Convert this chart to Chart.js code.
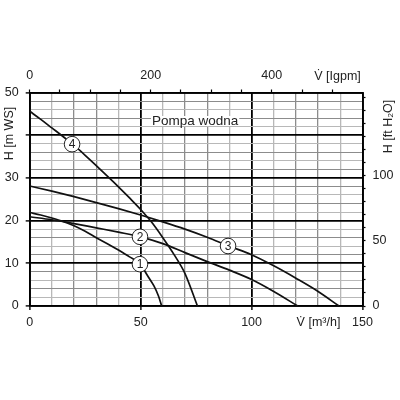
<!DOCTYPE html>
<html>
<head>
<meta charset="utf-8">
<script src="https://cdn.jsdelivr.net/npm/chart.js@4.4.0/dist/chart.umd.min.js"></script>
<style>
html,body{margin:0;padding:0;background:#fff;}
#wrap{width:400px;height:400px;position:relative;}
</style>
</head>
<body>
<div id="wrap"><canvas id="c" width="400" height="400"></canvas></div>
<script>
// ---- data (flow Q in m³/h, head H in m) ----
const curve1Q = [0, 5, 10, 15, 20, 25, 30, 35, 40, 45, 50, 53, 56, 58, 59.5];
const curve1H = [21.9, 21.3, 20.6, 19.8, 18.8, 17.5, 16.0, 14.6, 13.1, 11.5, 9.7, 7.2, 4.7, 2.4, 0];

const curve2Q = [0, 10, 20, 30, 40, 50, 60, 70, 80, 90, 100, 110, 120.8];
const curve2H = [20.9, 20.2, 19.3, 18.3, 17.3, 16.2, 14.6, 12.5, 10.4, 8.4, 6.2, 3.4, 0];

const curve3Q = [0, 10, 20, 30, 40, 50, 60, 70, 80, 90, 100, 110, 120, 130, 139.4];
const curve3H = [28.1, 26.9, 25.6, 24.2, 22.8, 21.3, 19.7, 18.0, 16.1, 14.0, 12.0, 9.4, 6.5, 3.4, 0];

const curve4Q = [0, 5, 10, 15, 20, 25, 30, 35, 40, 45, 50, 55, 60, 65, 70, 75.6];
const curve4H = [45.6, 43.7, 41.7, 39.7, 37.6, 35.3, 32.9, 30.4, 27.9, 25.3, 22.6, 19.6, 16.0, 12.1, 7.6, 0];

const markerNames = ["1", "2", "3", "4"];
const markerQ = [49.7, 49.7, 89.4, 19.1];
const markerH = [9.8, 16.2, 14.05, 37.9];

const bottomTickLabels = [0, 50, 100, 150];
const leftTickLabels = [0, 10, 20, 30, 50];
const topTickLabels = [0, 200, 400];
const rightTickLabels = [0, 50, 100];

const bottomTicks = [0, 10, 20, 30, 40, 50, 60, 70, 80, 90, 100, 110, 120, 130, 140, 150];
const leftTicks = [0, 2, 4, 6, 8, 10, 12, 14, 16, 18, 20, 22, 24, 26, 28, 30, 32, 34, 36, 38, 40, 42, 44, 46, 48, 50];
const topTicks = [0, 50, 100, 150, 200, 250, 300, 350, 400, 450, 500];
const rightTicks = [0, 10, 20, 30, 40, 50, 60, 70, 80, 90, 100, 110, 120, 130, 140, 150, 160];

const chartTitle = "Pompa wodna";
const titleBottom = "V\u0307 [m³/h]";
const titleTop = "V\u0307 [Igpm]";
const titleLeft = "H [m WS]";
const titleRight = "H [ft H\u2082O]";

const Q_MAX = 150, H_MAX = 50;
const M3H_TO_IGPM = 3.66614;
const M_TO_FT = 3.28084;

// ---- styling ----
const FONT = "'Liberation Sans', Arial, sans-serif";
const TXT = "#222";
const MAJOR = "#000";
const MINOR_DARK = "#8c8c8c";
const MINOR_LIGHT = "#b8b8b8";

function pts(q, h){ return q.map((v,i)=>({x:v, y:h[i]})); }
function ds(q,h){
  return {data: pts(q,h), borderColor:"#111", borderWidth:1.7, pointRadius:0,
          fill:false, cubicInterpolationMode:"monotone", xAxisID:"x", yAxisID:"y"};
}
function setTicks(list){ return s => { s.ticks = list.map(v => ({value: v})); }; }

function xGridColor(c){
  if (!c.tick) return MINOR_LIGHT;
  const m = c.tick.value % 50;
  if (m === 0) return MAJOR;
  return (m === 20 || m === 30) ? MINOR_DARK : MINOR_LIGHT;
}
function yGridColor(c){
  if (!c.tick) return MINOR_LIGHT;
  const v = c.tick.value;
  if (v % 10 === 0) return MAJOR;
  return (v % 4 === 0) ? MINOR_DARK : MINOR_LIGHT;
}

const annot = {
  id: "annot",
  afterDatasetsDraw(chart){
    const {ctx, scales} = chart;
    ctx.save();
    ctx.font = "12px " + FONT;
    ctx.textAlign = "center";
    ctx.textBaseline = "middle";
    markerNames.forEach((n,i)=>{
      const px = scales.x.getPixelForValue(markerQ[i]);
      const py = scales.y.getPixelForValue(markerH[i]);
      ctx.beginPath();
      ctx.arc(px, py, 7.8, 0, Math.PI*2);
      ctx.fillStyle = "#fff";
      ctx.fill();
      ctx.lineWidth = 1;
      ctx.strokeStyle = "#222";
      ctx.stroke();
      ctx.fillStyle = TXT;
      ctx.fillText(n, px, py+0.5);
    });
    ctx.restore();
  },
  afterDraw(chart){
    const {ctx, chartArea:a} = chart;
    ctx.save();
    ctx.fillStyle = TXT;
    ctx.textBaseline = "middle";
    ctx.textAlign = "center";
    // chart title inside plot
    ctx.font = "13.5px " + FONT;
    const cx = (a.left + a.right)/2 - 1;
    const cy = a.top + 28.5;
    const w = ctx.measureText(chartTitle).width;
    ctx.fillStyle = "#fff";
    ctx.fillRect(cx - w/2 - 1, cy - 5, w + 2, 10);
    ctx.fillStyle = TXT;
    ctx.fillText(chartTitle, cx, cy);
    // axis titles
    ctx.font = "12.5px " + FONT;
    ctx.fillText(titleBottom, a.right - 44, a.bottom + 17);
    ctx.fillText(titleTop, a.right - 25, a.top - 16);
    ctx.save();
    ctx.translate(10, a.top + 41);
    ctx.rotate(-Math.PI/2);
    ctx.fillText(titleLeft, 0, 0);
    ctx.restore();
    ctx.save();
    ctx.translate(389, a.top + 34);
    ctx.rotate(-Math.PI/2);
    ctx.fillText(titleRight, 0, 0);
    ctx.restore();
    ctx.restore();
  }
};

const tickFont = {family: FONT, size: 12.5};

new Chart(document.getElementById("c"), {
  type: "line",
  data: { datasets: [ds(curve1Q,curve1H), ds(curve2Q,curve2H), ds(curve3Q,curve3H), ds(curve4Q,curve4H)] },
  options: {
    responsive: false,
    animation: false,
    events: [],
    layout: {padding: 0},
    plugins: {legend:{display:false}, tooltip:{enabled:false}, title:{display:false}},
    scales: {
      x: {
        type: "linear", position: "bottom", min: 0, max: Q_MAX,
        afterFit(s){ s.height = 94; },
        afterBuildTicks: setTicks(bottomTicks),
        ticks: {autoSkip:false, maxRotation:0, padding: 5, color: TXT, font: tickFont,
                callback: v => bottomTickLabels.includes(v) ? String(v) : ""},
        grid: {
          color: xGridColor,
          lineWidth: c => (c.tick && c.tick.value % 50 === 0) ? 1.8 : 1.3,
          tickColor: c => (c.tick && c.tick.value % 50 === 0) ? MAJOR : "rgba(0,0,0,0)",
          tickLength: 4, tickWidth: 1.4
        },
        border: {display:true, color: MAJOR, width: 1.8}
      },
      x2: {
        type: "linear", position: "top", min: 0, max: Q_MAX*M3H_TO_IGPM,
        afterFit(s){ s.height = 92.5; },
        afterBuildTicks: setTicks(topTicks),
        ticks: {autoSkip:false, maxRotation:0, padding: 6, color: TXT, font: tickFont,
                callback: v => topTickLabels.includes(v) ? String(v) : ""},
        grid: {drawOnChartArea:false, tickLength: 3, tickWidth: 1.2, tickColor: MAJOR},
        border: {display:true, color: MAJOR, width: 1.8}
      },
      y: {
        type: "linear", position: "left", min: 0, max: H_MAX,
        afterFit(s){ s.width = 29.7; },
        afterBuildTicks: setTicks(leftTicks),
        ticks: {autoSkip:false, padding: 7, color: TXT, font: tickFont,
                callback: v => leftTickLabels.includes(v) ? String(v) : ""},
        grid: {
          color: yGridColor,
          lineWidth: c => (c.tick && c.tick.value % 10 === 0) ? 1.8 : 1,
          tickColor: c => (c.tick && c.tick.value % 10 === 0) ? MAJOR : "rgba(0,0,0,0)",
          tickLength: 4, tickWidth: 1.4
        },
        border: {display:true, color: MAJOR, width: 1.8}
      },
      y2: {
        type: "linear", position: "right", min: 0, max: H_MAX*M_TO_FT,
        afterFit(s){ s.width = 37.5; },
        afterBuildTicks: setTicks(rightTicks),
        ticks: {autoSkip:false, padding: 7, color: TXT, font: tickFont,
                callback: v => rightTickLabels.includes(v) ? String(v) : ""},
        grid: {drawOnChartArea:false, tickLength: 3, tickWidth: 1.2, tickColor: MAJOR},
        border: {display:true, color: MAJOR, width: 1.8}
      }
    }
  },
  plugins: [annot]
});
</script>
</body>
</html>
